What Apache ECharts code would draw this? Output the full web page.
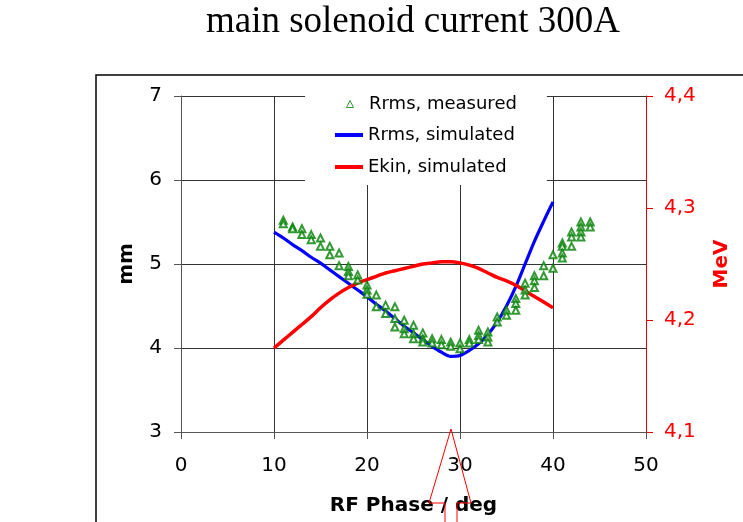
<!DOCTYPE html>
<html>
<head>
<meta charset="utf-8">
<script src="https://cdn.jsdelivr.net/npm/echarts@6/dist/echarts.min.js"></script>
<style>
  html, body { margin: 0; padding: 0; background: #ffffff; }
  #chart { width: 743px; height: 522px; }
</style>
</head>
<body>
<div id="chart"></div>
<script>
// ---- data ----
const titleText = 'main solenoid current 300A';
const seriesNames = ['Rrms, measured', 'Rrms, simulated', 'Ekin, simulated'];

const measuredPhase = [
  11, 11, 12, 12, 13, 13, 14, 14, 15, 15, 16, 16, 17, 17,
  18, 18, 18, 19, 19, 20, 20, 20, 21, 21, 22, 22,
  23, 23, 23, 24, 24, 24, 25, 25, 25, 26, 26, 26,
  27, 27, 28, 28, 29, 29, 30, 30, 31, 31,
  32, 32, 32, 33, 33, 33, 34, 34, 35, 35,
  36, 36, 36, 37, 37, 37, 38, 38, 38, 39, 39, 40, 40,
  41, 41, 41, 41, 42, 42, 42, 43, 43, 43, 43, 44, 44
];
const measuredRrms = [
  5.52, 5.48, 5.44, 5.42, 5.42, 5.35, 5.35, 5.29, 5.31, 5.21, 5.21, 5.11, 5.13, 4.98,
  4.97, 4.91, 4.86, 4.87, 4.81, 4.75, 4.69, 4.64, 4.63, 4.49, 4.51, 4.41,
  4.49, 4.35, 4.25, 4.33, 4.23, 4.17, 4.27, 4.17, 4.11, 4.18, 4.11, 4.07,
  4.11, 4.06, 4.10, 4.04, 4.07, 4.02, 4.06, 3.99, 4.10, 4.06,
  4.21, 4.15, 4.10, 4.19, 4.13, 4.07, 4.37, 4.31, 4.45, 4.39,
  4.59, 4.53, 4.45, 4.77, 4.69, 4.63, 4.86, 4.80, 4.72, 4.98, 4.86, 5.11, 4.95,
  5.25, 5.21, 5.13, 5.07, 5.38, 5.32, 5.21, 5.50, 5.44, 5.38, 5.32, 5.50, 5.44
];

const simPhase = [10, 11, 12, 13, 14, 15, 16, 17, 18, 19, 20, 21, 22, 23, 24, 25,
                  26, 27, 28, 29, 30, 31, 32, 33, 34, 35, 36, 37, 38, 39, 40];
const simRrms = [5.38, 5.31, 5.23, 5.16, 5.08, 5.01, 4.93, 4.85, 4.77, 4.69, 4.61,
                 4.52, 4.44, 4.35, 4.26, 4.18, 4.10, 4.02, 3.95, 3.90, 3.91,
                 3.97, 4.05, 4.16, 4.31, 4.50, 4.73, 5.00, 5.27, 5.51, 5.74];
const simEkin = [4.175, 4.182, 4.189, 4.196, 4.203, 4.211, 4.218, 4.224, 4.229, 4.233, 4.236,
                 4.239, 4.242, 4.244, 4.246, 4.248, 4.250, 4.251, 4.252, 4.252, 4.251,
                 4.249, 4.246, 4.242, 4.238, 4.235, 4.231, 4.226, 4.221, 4.216, 4.211];

const xName = 'RF Phase / deg';
const yLeftName = 'mm';
const yRightName = 'MeV';

// ---- build chart ----
const sans = 'DejaVu Sans';
const zip = (a, b) => a.map((v, i) => [v, b[i]]);
const legendText = { fontFamily: sans, fontSize: 18, color: '#000' };
const trianglePath = 'path://M5,0 L10,10 L0,10 Z';

const chart = echarts.init(document.getElementById('chart'), null, { renderer: 'canvas' });
chart.setOption({
  animation: false,
  backgroundColor: '#ffffff',
  title: {
    text: titleText,
    left: 413,
    top: 4,
    padding: 0,
    textAlign: 'center',
    textStyle: { fontFamily: 'Liberation Serif', fontSize: 37, fontWeight: 'normal', color: '#000' }
  },
  grid: { left: 181, right: 97, top: 96, bottom: 90, containLabel: false },
  legend: [
    {
      z: 4,
      orient: 'vertical',
      left: 305,
      top: 89,
      padding: [6, 30, 72, 41],
      backgroundColor: '#ffffff',
      itemWidth: 28,
      itemHeight: 7,
      symbolKeepAspect: true,
      data: [{ name: seriesNames[0], icon: trianglePath,
               itemStyle: { color: '#ffffff', borderColor: '#008000', borderWidth: 1 } }],
      textStyle: legendText
    },
    {
      z: 5,
      orient: 'vertical',
      left: 335,
      top: 126,
      padding: 0,
      itemWidth: 28,
      itemHeight: 4,
      data: [{ name: seriesNames[1], icon: 'rect', itemStyle: { color: '#0000ff' } }],
      textStyle: legendText
    },
    {
      z: 5,
      orient: 'vertical',
      left: 335,
      top: 158,
      padding: 0,
      itemWidth: 28,
      itemHeight: 4,
      data: [{ name: seriesNames[2], icon: 'rect', itemStyle: { color: '#ff0000' } }],
      textStyle: legendText
    }
  ],
  xAxis: {
    type: 'value',
    min: 0, max: 50, interval: 10,
    name: xName,
    nameLocation: 'middle',
    nameGap: 64,
    nameTextStyle: { fontFamily: sans, fontSize: 20, fontWeight: 'bold', color: '#000' },
    axisLine: { onZero: false, lineStyle: { color: '#555', width: 1 } },
    axisTick: { show: true, length: 7, lineStyle: { color: '#555' } },
    axisLabel: { margin: 24, fontFamily: sans, fontSize: 20, color: '#000' },
    splitLine: { show: true, lineStyle: { color: '#333', width: 1 } }
  },
  yAxis: [
    {
      type: 'value',
      min: 3, max: 7, interval: 1,
      position: 'left',
      name: yLeftName,
      nameLocation: 'middle',
      nameRotate: 90,
      nameGap: 44,
      nameTextStyle: { fontFamily: sans, fontSize: 20, fontWeight: 'bold', color: '#000' },
      axisLine: { show: true, lineStyle: { color: '#555', width: 1 } },
      axisTick: { show: true, length: 7, lineStyle: { color: '#555' } },
      axisLabel: { margin: 19, fontFamily: sans, fontSize: 20, color: '#000' },
      splitLine: { show: true, lineStyle: { color: '#333', width: 1 } }
    },
    {
      type: 'value',
      min: 4.1, max: 4.4, interval: 0.1,
      position: 'right',
      name: yRightName,
      nameLocation: 'middle',
      nameRotate: 90,
      nameGap: 66,
      nameTextStyle: { fontFamily: sans, fontSize: 20, fontWeight: 'bold', color: '#ff0000' },
      axisLine: { show: true, lineStyle: { color: '#e00000', width: 1 } },
      axisTick: { show: true, length: 7, lineStyle: { color: '#e00000' } },
      axisLabel: {
        margin: 18, fontFamily: sans, fontSize: 20, color: '#ff0000',
        formatter: v => v.toFixed(1).replace('.', ',')
      },
      splitLine: { show: false }
    }
  ],
  series: [
    {
      name: seriesNames[1],
      type: 'line',
      yAxisIndex: 0,
      data: zip(simPhase, simRrms),
      symbol: 'none',
      smooth: 0.3,
      lineStyle: { color: '#0000ff', width: 3.2 },
      itemStyle: { color: '#0000ff' },
      z: 2
    },
    {
      name: seriesNames[2],
      type: 'line',
      yAxisIndex: 1,
      data: zip(simPhase, simEkin),
      symbol: 'none',
      smooth: 0.3,
      lineStyle: { color: '#ff0000', width: 3.5 },
      itemStyle: { color: '#ff0000' },
      z: 3
    },
    {
      name: seriesNames[0],
      type: 'scatter',
      yAxisIndex: 0,
      data: zip(measuredPhase, measuredRrms),
      symbol: 'emptyTriangle',
      symbolSize: 7,
      itemStyle: { color: '#008000', borderColor: '#008000', borderWidth: 1.2 },
      z: 4
    }
  ],
  graphic: [
    {
      type: 'rect',
      silent: true,
      z: 100,
      shape: { x: 96, y: 75, width: 700, height: 500 },
      style: { fill: 'none', stroke: '#000000', lineWidth: 1.5 }
    },
    {
      type: 'polyline',
      silent: true,
      z: 100,
      shape: { points: [[445, 530], [445, 503], [429, 503], [451, 429], [471, 503], [457, 503], [457, 530]] },
      style: { fill: 'none', stroke: '#ff0000', lineWidth: 1 }
    }
  ]
});
</script>
</body>
</html>
